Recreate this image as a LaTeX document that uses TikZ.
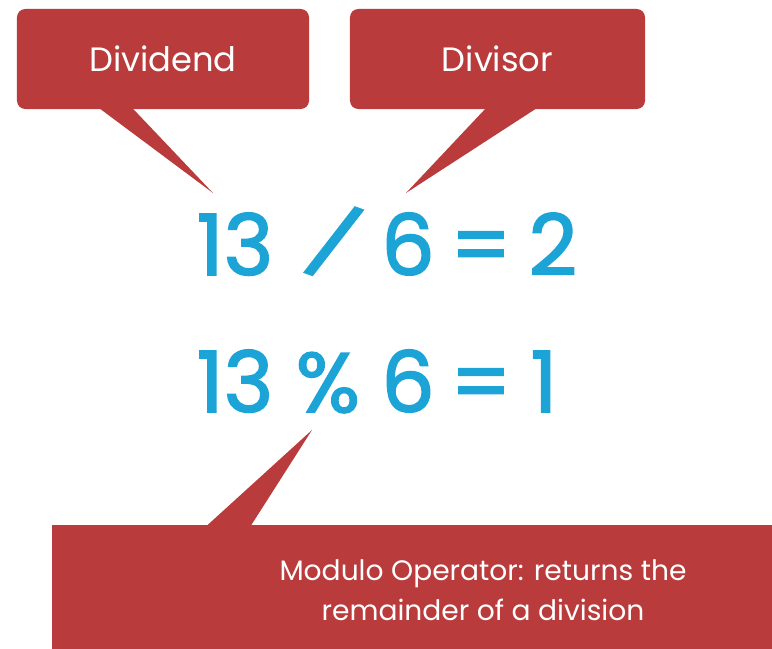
\documentclass[tikz,border=0pt]{standalone}
\usepackage{fontspec}
\setmainfont{Poppins}
\newfontfamily\eqfont{Poppins}[FakeBold=2]
\usetikzlibrary{positioning,calc}
\definecolor{calloutred}{RGB}{185,59,60}
\definecolor{sumblue}{RGB}{28,164,215}
\begin{document}
\begin{tikzpicture}[x=0.025cm,y=-0.025cm]
  \useasboundingbox (0,0) rectangle (772,649);
  \tikzset{
    bubble/.style={fill=calloutred,text=white,rounded corners=6pt,inner sep=0pt,
      font=\fontsize{24}{28}\selectfont},
    eqtext/.style={text=sumblue,anchor=base,inner sep=0pt,
      font=\eqfont\fontsize{60}{62}\selectfont},
  }
  % ---- labels on top ----
  \node[bubble,minimum width=7.3cm,minimum height=2.5cm] (dividend) at (163,59) {Dividend};
  \node[bubble,minimum width=7.375cm,minimum height=2.5cm] (divisor) at (497.5,59) {Divisor};
  \coordinate (dividendtip) at (213,193);
  \coordinate (divisortip) at (406,193);
  \fill[calloutred] ($(dividend.south west)+(80,-3)$) -- ($(dividend.south west)+(114,-3)$) -- (dividendtip) -- cycle;
  \fill[calloutred] ($(divisor.south west)+(138,-3)$) -- ($(divisor.south west)+(190,-3)$) -- (divisortip) -- cycle;
  % ---- the two sums ----
  \foreach \x/\t [count=\i] in {235/13,334/{\raisebox{4.5pt}{\rotatebox[origin=c]{-20}{\scalebox{1.1}[0.84]{/}}}},408/6,481/=,553/2}
    \node[eqtext] (q\i) at (\x,275) {\t};
  \foreach \x/\t [count=\i] in {235/13,328/{\%},408/6,481/=,544/1}
    \node[eqtext] (m\i) at (\x,412) {\t};
  % ---- modulo remark ----
  \node[bubble,rounded corners=0pt,minimum width=21.55cm,minimum height=3.25cm,align=center,
    font=\fontsize{20}{28.5}\selectfont] (remark) at (483,590)
    {Modulo Operator: returns the\\remainder of a division};
  \coordinate (remarktip) at (312,430);
  \fill[calloutred] ($(remark.north west)+(153,3)$) -- ($(remark.north west)+(198,3)$) -- (remarktip) -- cycle;
\end{tikzpicture}
\end{document}
